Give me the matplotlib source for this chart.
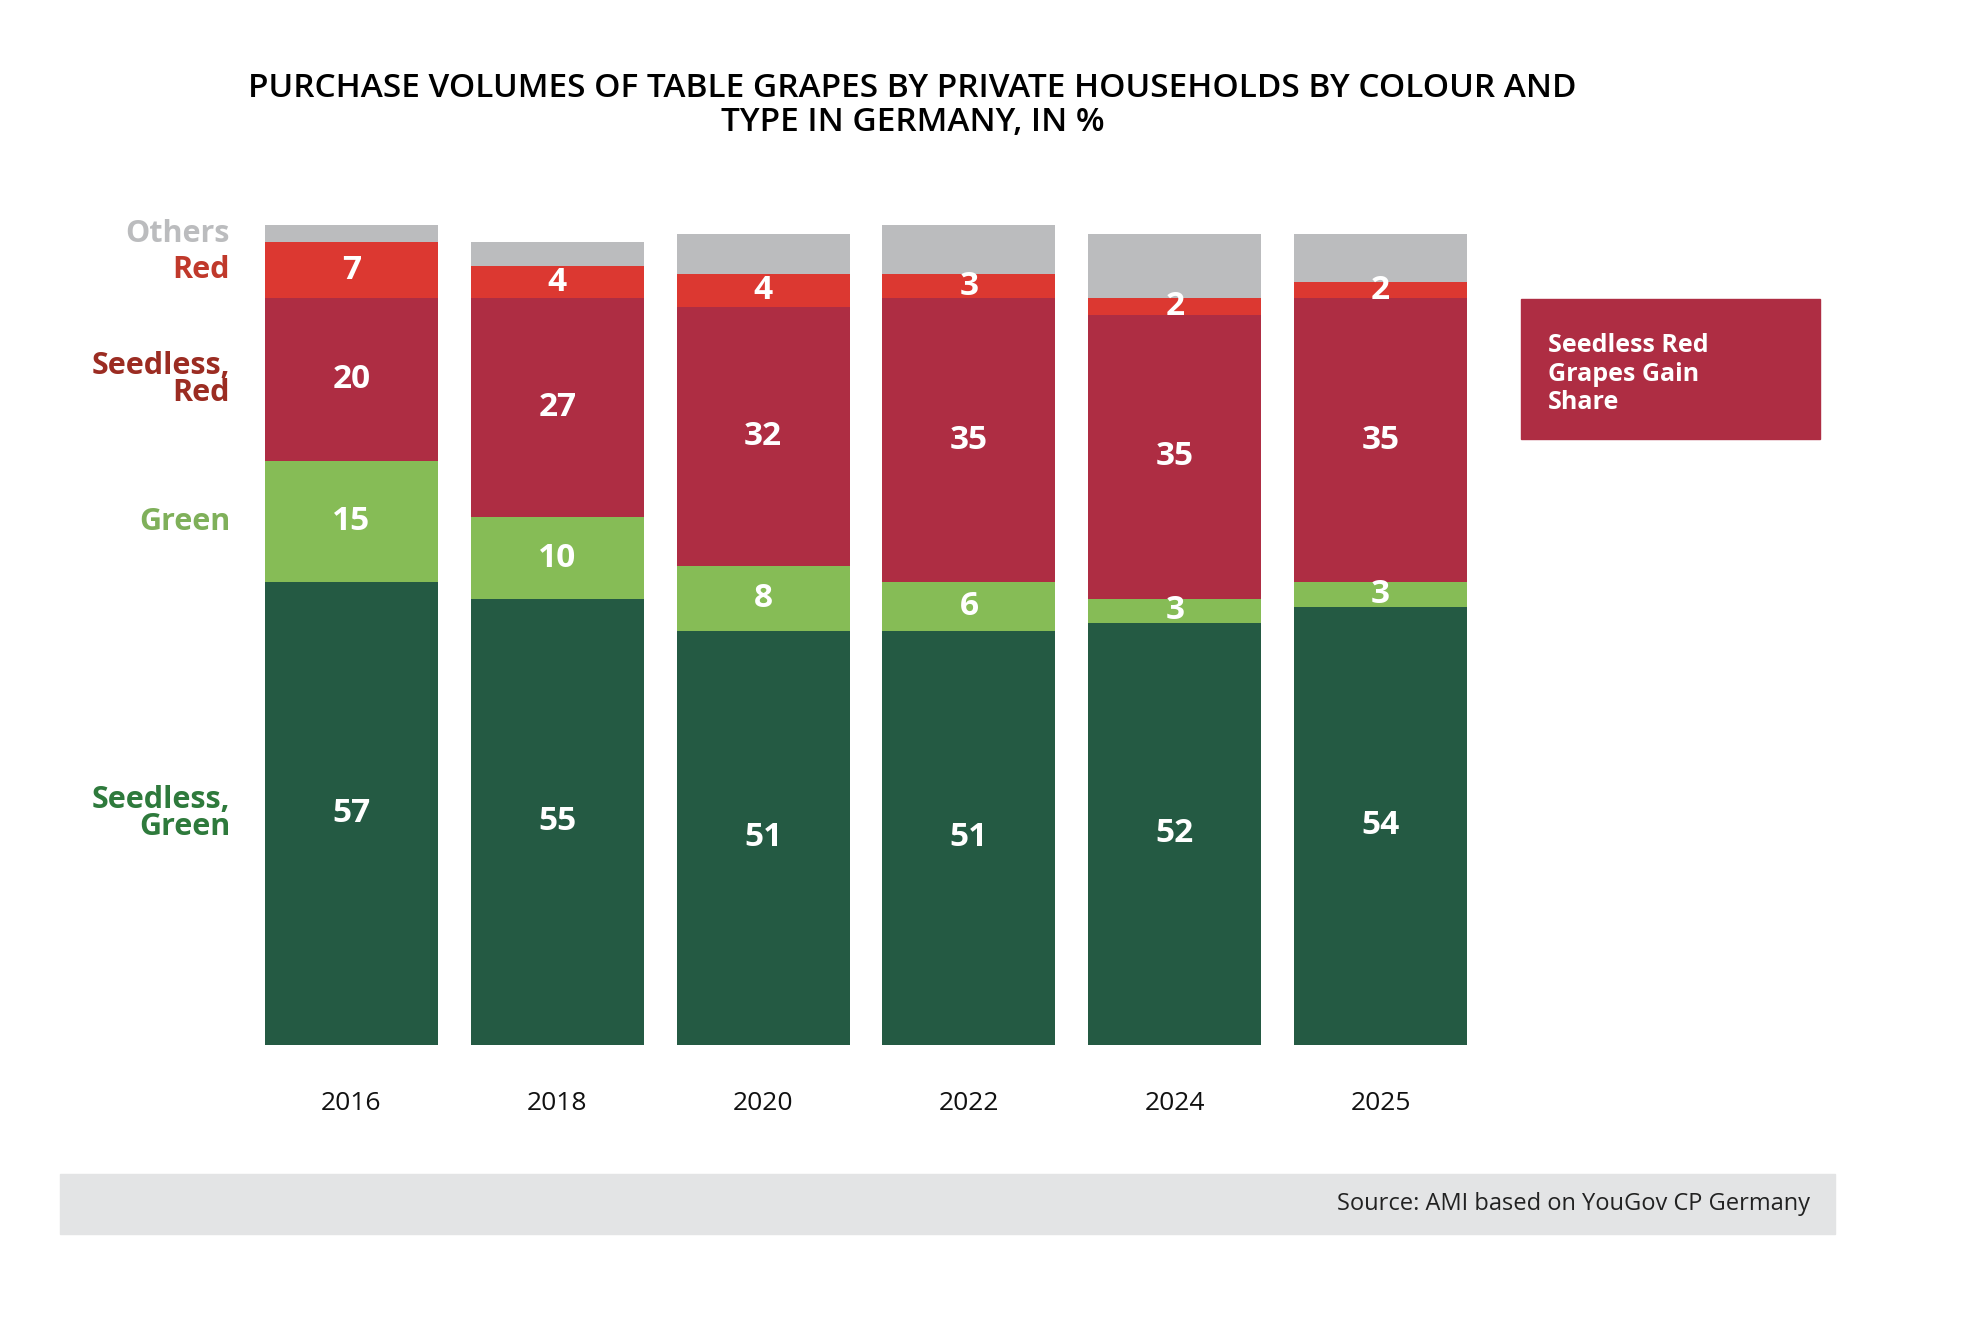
import matplotlib.pyplot as plt
from matplotlib.patches import Rectangle
plt.rcParams['font.family'] = ['Open Sans', 'DejaVu Sans']

years = ['2016', '2018', '2020', '2022', '2024', '2025']
seedless_green = [57, 55, 51, 51, 52, 54]
green = [15, 10, 8, 6, 3, 3]
seedless_red = [20, 27, 32, 35, 35, 35]
red = [7, 4, 4, 3, 2, 2]
others = [2, 3, 5, 6, 8, 6]

series = [("Seedless,\nGreen", seedless_green, '#245a43', '#2e7a3c'),
          ("Green", green, '#86bc56', '#7fb05a'),
          ("Seedless,\nRed", seedless_red, '#ae2d43', '#9b2c22'),
          ("Red", red, '#dc3831', '#c0392b'),
          ("Others", others, '#bbbcbe', '#bbbcbe')]

W, H = 1568, 1056
fig = plt.figure(figsize=(19.68, 13.26), dpi=100)
ax = fig.add_axes([190/W, 1-832/H, 1000/W, 662/H])
ax.set_xlim(-0.549, 5.549)
ax.set_ylim(0, 662/6.46)
ax.axis('off')

x = list(range(len(years)))
bottoms = [0]*len(years)
for name, vals, col, lcol in series:
    ax.bar(x, vals, bottom=bottoms, width=0.84, color=col, linewidth=0)
    if name != "Others":
        for i, v in enumerate(vals):
            ax.text(i, bottoms[i]+v/2, str(v), ha='center', va='center', color='white',
                    fontsize=24, fontweight='bold')
    # left label at first bar's segment
    ax.text(-0.59, bottoms[0]+vals[0]/2, name, ha='right', va='center', color=lcol,
            fontsize=22, fontweight='bold', linespacing=0.9, clip_on=False)
    bottoms = [b+v for b, v in zip(bottoms, vals)]

for i, y in enumerate(years):
    ax.text(i, -7.2, y, ha='center', va='center', fontsize=19, color='#111111')

fig.text(727/W, 1-84/H, "PURCHASE VOLUMES OF TABLE GRAPES BY PRIVATE HOUSEHOLDS BY COLOUR AND\nTYPE IN GERMANY, IN %",
         ha='center', va='center', fontsize=24, fontweight='semibold', linespacing=1.05)

fig.patches.append(Rectangle((1212/W, 1-350/H), 238/W, 112/H, transform=fig.transFigure, color='#ae2d43'))
fig.text(1233/W, 1-298/H, "Seedless Red\nGrapes Gain\nShare", ha='left', va='center', color='white',
         fontsize=18, fontweight='bold', linespacing=1.2)

fig.patches.append(Rectangle((48/W, 1-983/H), 1414/W, 48/H, transform=fig.transFigure, color='#e3e4e5'))
fig.text(1442/W, 1-959/H, "Source: AMI based on YouGov CP Germany", ha='right', va='center',
         fontsize=17, color='#222222')

fig.savefig('out.png', dpi=100, facecolor='white')
